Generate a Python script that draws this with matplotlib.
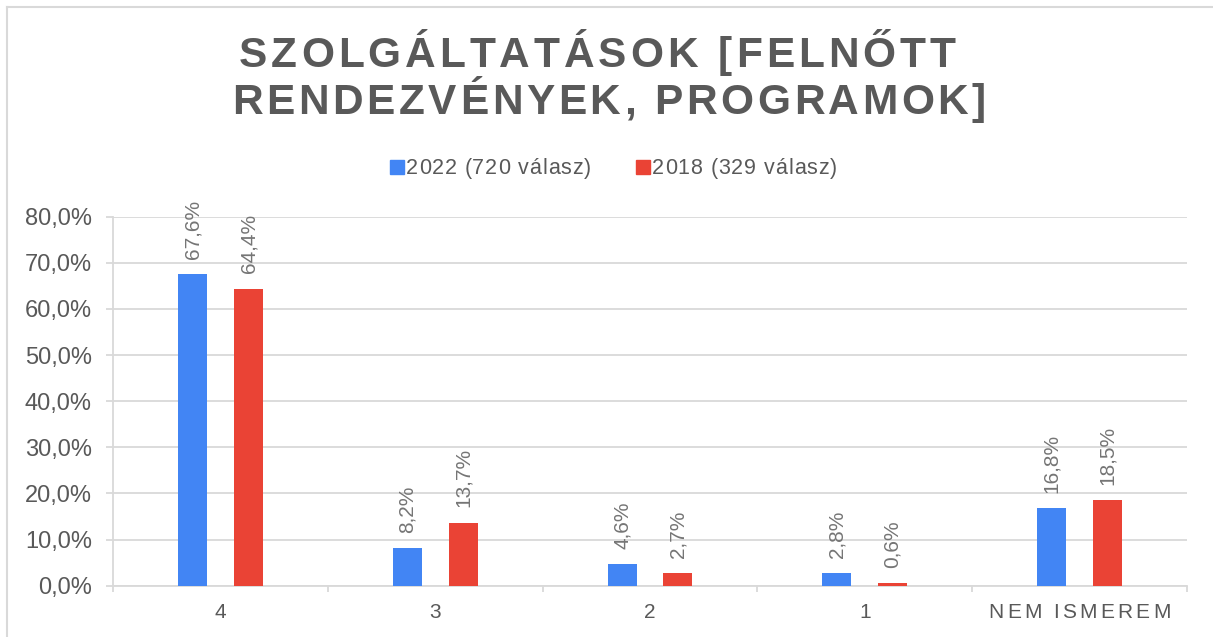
import matplotlib
matplotlib.use("Agg")
import matplotlib.pyplot as plt
from matplotlib.lines import Line2D
from matplotlib.patches import Rectangle
from matplotlib.font_manager import findfont, FontProperties
from matplotlib.ft2font import FT2Font

# ---------------- data ----------------
categories = ["4", "3", "2", "1", "NEM ISMEREM"]
series_names = ["2022 (720 válasz)", "2018 (329 válasz)"]
values_2022 = [67.6, 8.2, 4.6, 2.8, 16.8]
values_2018 = [64.4, 13.7, 2.7, 0.6, 18.5]
y_ticks = [0, 10, 20, 30, 40, 50, 60, 70, 80]
title_lines = ["SZOLGÁLTATÁSOK [FELNŐTT", "RENDEZVÉNYEK, PROGRAMOK]"]

# ---------------- style ----------------
W, H, DPI = 1213, 637, 100
BLUE = "#4285F4"
RED = "#EA4335"
GRID = "#D9D9D9"
TXT = "#595959"
LBL = "#757575"
FONT = "Liberation Sans"

plt.rcParams["font.family"] = [FONT, "DejaVu Sans"]

fig = plt.figure(figsize=(W / DPI, H / DPI), dpi=DPI)
fig.patch.set_facecolor("white")

# axes placed in pixel terms
ax_l, ax_r, ax_top, ax_bot = 113.3, 1186.7, 216.7, 585.7
ax = fig.add_axes([ax_l / W, (H - ax_bot) / H, (ax_r - ax_l) / W, (ax_bot - ax_top) / H])

n = len(categories)
x = list(range(n))
bw = 0.135
off = 0.13
b1 = ax.bar([i - off for i in x], values_2022, width=bw, color=BLUE, zorder=3)
b2 = ax.bar([i + off for i in x], values_2018, width=bw, color=RED, zorder=3)

ax.set_xlim(-0.5, n - 0.5)
ax.set_ylim(0, 80)
ax.set_yticks(y_ticks)
ax.set_yticklabels([f"{v:.1f}%".replace(".", ",") for v in y_ticks],
                   fontsize=17, color=TXT)
ax.yaxis.grid(True, color=GRID, linewidth=1.3, zorder=0)
ax.tick_params(axis="y", length=5, width=1.3, color=GRID, pad=10.5)

ax.set_xticks([i - 0.5 for i in range(n + 1)])
ax.set_xticklabels([])
ax.tick_params(axis="x", length=4.5, width=1.3, color=GRID)

for s in ["top", "right"]:
    ax.spines[s].set_visible(False)
for s in ["left", "bottom"]:
    ax.spines[s].set_color(GRID)
    ax.spines[s].set_linewidth(1.3)
ax.set_facecolor("white")

# data labels
for bars, vals in [(b1, values_2022), (b2, values_2018)]:
    for r, v in zip(bars, vals):
        ax.annotate(f"{v:.1f}%".replace(".", ","),
                    (r.get_x() + r.get_width() / 2, r.get_height()),
                    xytext=(0, 11), textcoords="offset points",
                    rotation=90, ha="center", va="bottom",
                    fontsize=15, color=LBL)

# ---------- letter-spaced text helper (pixel coords, y from top) ----------
def advances(s, size_pt, weight="normal"):
    path = findfont(FontProperties(family=FONT, weight=weight))
    f = FT2Font(path)
    f.set_size(size_pt, DPI)
    out = []
    for ch in s:
        g = f.load_char(ord(ch))
        out.append(g.linearHoriAdvance / 65536.0)
    return out

def spaced_text(s, xc, y_base, size_pt, spacing, weight="normal", color=TXT, ha="center"):
    adv = advances(s, size_pt, weight)
    total = sum(adv) + spacing * (len(s) - 1)
    x0 = xc - total / 2 if ha == "center" else xc
    xp = x0
    for ch, a in zip(s, adv):
        fig.text(xp / W, (H - y_base) / H, ch, fontsize=size_pt, fontweight=weight,
                 color=color, ha="left", va="baseline", family=FONT)
        xp += a + spacing
    return total

# title
spaced_text(title_lines[0], 597, 67, 30.5, 4.0, weight="bold")
spaced_text(title_lines[1], 609, 114, 30.5, 3.6, weight="bold")

# x category labels
fig.canvas.draw()
for i, c in enumerate(categories):
    px, _ = ax.transData.transform((i, 0))
    spaced_text(c, px, 618, 15, 3.2 if len(c) > 1 else 0)

# legend (manual)
leg_y = 174
sq = 14
for name, col, x0 in [(series_names[0], BLUE, 390), (series_names[1], RED, 636)]:
    fig.add_artist(Rectangle((x0 / W, (H - leg_y) / H), sq / W, sq / H,
                             transform=fig.transFigure, color=col))
    spaced_text(name, x0 + sq + 2, leg_y, 15.5, 0.9, ha="left")

# chart border (top and left)
fig.add_artist(Line2D([7 / W, 7 / W], [0, (H - 7) / H], transform=fig.transFigure,
                      color="#D9D9D9", linewidth=1.5))
fig.add_artist(Line2D([7 / W, 1], [(H - 7) / H, (H - 7) / H], transform=fig.transFigure,
                      color="#D9D9D9", linewidth=1.5))

fig.savefig("out.png", dpi=DPI, facecolor="white")
